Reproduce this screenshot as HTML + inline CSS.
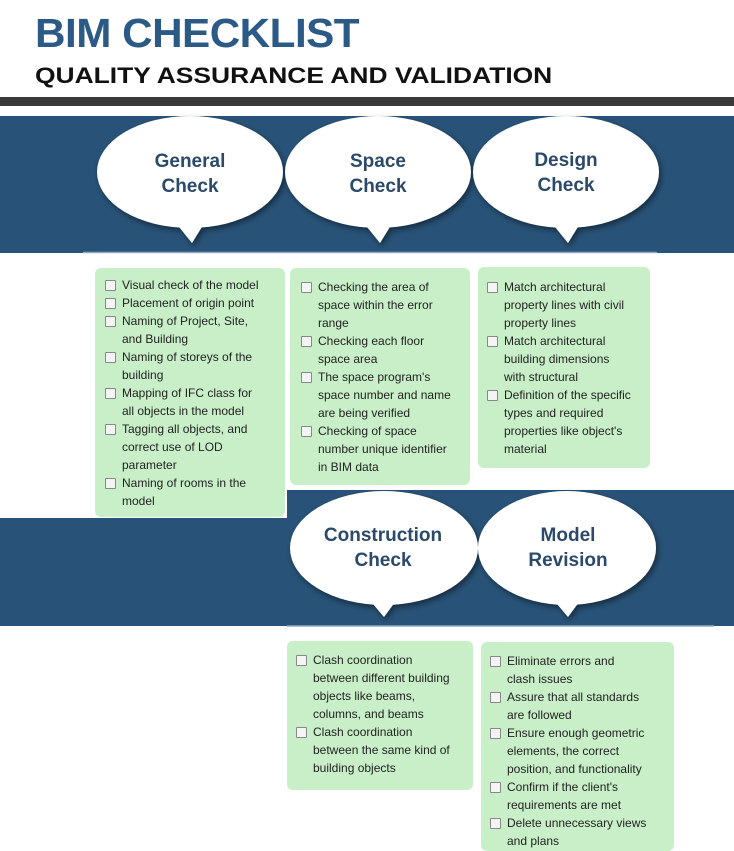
<!DOCTYPE html>
<html><head><meta charset="utf-8"><style>
body{margin:0;width:734px;height:851px;overflow:hidden;background:#fff;position:relative;font-family:"Liberation Sans",sans-serif}
.a{position:absolute}
.box{position:absolute;background:#c8efc8;border-radius:6px}
.l{position:absolute;font-size:12px;color:#222;white-space:nowrap;line-height:18px}
.cb{position:absolute;width:9px;height:9px;border:1px solid #888;background:#f4f4f4;border-radius:1px}
</style></head><body>
<div class="a" style="left:35px;top:10px;font-size:41px;font-weight:bold;color:#2b5a86;letter-spacing:-0.5px;transform:scaleX(1.03);transform-origin:left">BIM CHECKLIST</div>
<div class="a" style="left:35px;top:63px;font-size:22px;font-weight:bold;color:#111;transform:scaleX(1.2);transform-origin:left">QUALITY ASSURANCE AND VALIDATION</div>
<div class="a" style="left:0;top:97px;width:734px;height:9px;background:#3a3a3a"></div>
<div class="a" style="left:0;top:116px;width:734px;height:137px;background:#285277"></div>
<div class="a" style="left:287px;top:490px;width:447px;height:136px;background:#285277"></div>
<div class="a" style="left:0;top:518px;width:287px;height:108px;background:#285277"></div>
<svg class="a" style="left:0;top:0" width="734" height="851">
<defs><filter id="s" x="-20%" y="-20%" width="140%" height="140%"><feDropShadow dx="2" dy="3" stdDeviation="3" flood-opacity="0.45"/></filter></defs>
<g fill="#fff" filter="url(#s)">
<ellipse cx="190" cy="172" rx="93" ry="56"/><polygon points="175,222 205,222 192,243"/>
<ellipse cx="378" cy="172" rx="93" ry="56"/><polygon points="363,222 393,222 380,243"/>
<ellipse cx="566" cy="172" rx="93" ry="56"/><polygon points="551,222 581,222 568,243"/>
<ellipse cx="384" cy="548" rx="94" ry="57"/><polygon points="368,598 398,598 384,617"/>
<ellipse cx="567" cy="548" rx="89" ry="57"/><polygon points="552,598 582,598 568,617"/>
</g>
<line x1="83" y1="252.5" x2="657" y2="252.5" stroke="#8fa9c4" stroke-width="1.5"/>
<line x1="287" y1="626" x2="714" y2="626" stroke="#8fa9c4" stroke-width="1.5"/>
<g font-family="Liberation Sans,sans-serif" font-weight="bold" font-size="19" fill="#2b4a6a" text-anchor="middle">
<text x="190" y="167">General</text><text x="190" y="192">Check</text>
<text x="378" y="167">Space</text><text x="378" y="192">Check</text>
<text x="566" y="166">Design</text><text x="566" y="191">Check</text>
<text x="383" y="541">Construction</text><text x="383" y="566">Check</text>
<text x="568" y="541">Model</text><text x="568" y="566">Revision</text>
</g>
</svg>
<div class="box" style="left:95px;top:268px;width:190px;height:249px"></div>
<div class="box" style="left:290px;top:268px;width:180px;height:217px"></div>
<div class="box" style="left:478px;top:267px;width:172px;height:201px"></div>
<div class="box" style="left:287px;top:641px;width:186px;height:149px"></div>
<div class="box" style="left:481px;top:642px;width:193px;height:209px"></div>
<div id="c"></div>
<script>
function L(x,y,items){var h='';items.forEach(function(it){h+='<div class="cb" style="left:'+(x-17)+'px;top:'+(y+4)+'px"></div>';it.forEach(function(t){h+='<div class="l" style="left:'+x+'px;top:'+y+'px">'+t+'</div>';y+=18;});});document.getElementById('c').insertAdjacentHTML('beforeend',h);}
L(122,276,[["Visual check of the model"],["Placement of origin point"],["Naming of Project, Site,","and Building"],["Naming of storeys of the","building"],["Mapping of IFC class for","all objects in the model"],["Tagging all objects, and","correct use of LOD","parameter"],["Naming of rooms in the","model"]]);
L(318,278,[["Checking the area of","space within the error","range"],["Checking each floor","space area"],["The space program's","space number and name","are being verified"],["Checking of space","number unique identifier","in BIM data"]]);
L(504,278,[["Match architectural","property lines with civil","property lines"],["Match architectural","building dimensions","with structural"],["Definition of the specific","types and required","properties like object's","material"]]);
L(313,651,[["Clash coordination","between different building","objects like beams,","columns, and beams"],["Clash coordination","between the same kind of","building objects"]]);
L(507,652,[["Eliminate errors and","clash issues"],["Assure that all standards","are followed"],["Ensure enough geometric","elements, the correct","position, and functionality"],["Confirm if the client's","requirements are met"],["Delete unnecessary views","and plans"]]);
</script>
</body></html>
